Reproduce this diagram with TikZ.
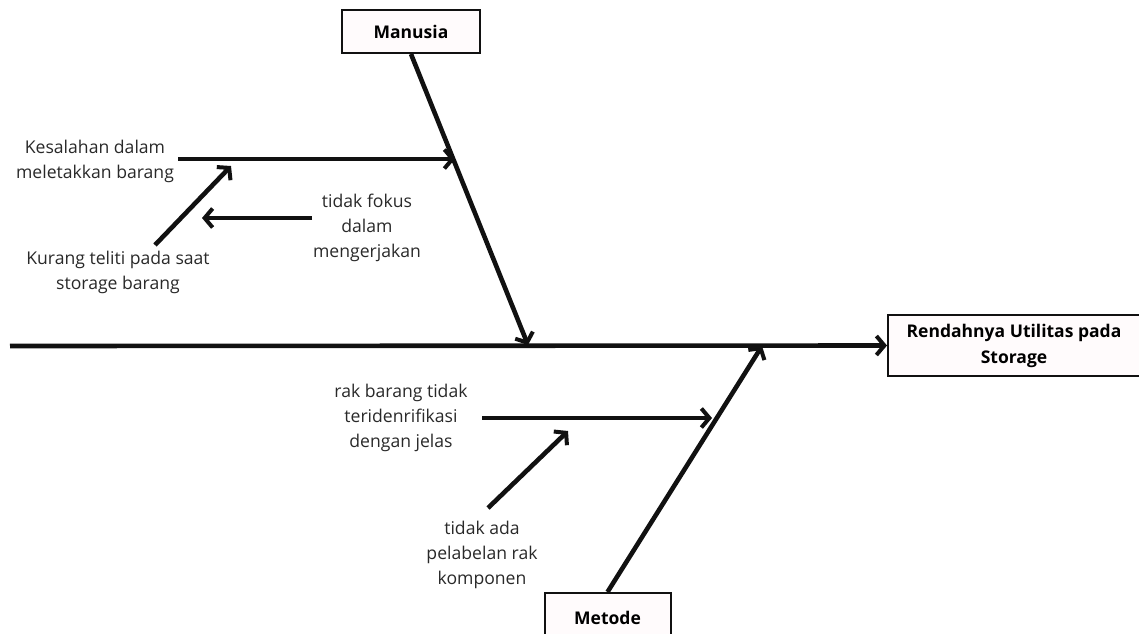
\documentclass[tikz,border=0pt]{standalone}
\usepackage{fontspec}
\setmainfont{Open Sans}
\usetikzlibrary{arrows.meta}
\definecolor{boxfill}{HTML}{FFFBFC}
\definecolor{ink}{HTML}{111111}
\tikzset{
  bone/.style={line width=4.6pt, ink, line cap=butt},
  arrowed/.style={bone, -{Straight Barb[length=8pt,width=19pt,line width=4pt]}},
  catbox/.style={draw=ink, line width=2pt, fill=boxfill, inner sep=0pt, font=\bfseries\fontsize{17.5}{26}\selectfont, align=center},
  cause/.style={font=\fontsize{17.6}{25}\selectfont, text=ink!90, align=center, inner sep=0pt}
}
\begin{document}
\begin{tikzpicture}[x=1pt,y=-1pt]
\useasboundingbox (0,0) rectangle (1139,633);

% category and effect boxes
\node[catbox, minimum width=138pt, minimum height=43pt] (manusia) at (411,31.5) {Manusia};
\node[catbox, minimum width=126pt, minimum height=50pt] (metode) at (607.5,618) {Metode};
\node[catbox, minimum width=252pt, minimum height=61pt] (effect) at (1014,345.5) {Rendahnya Utilitas pada\\Storage};

% main spine
\coordinate (tail) at (10,346);
\draw[arrowed] (tail) -- (effect.west);

% bones
\coordinate (mtip) at (528,345);
\coordinate (metip) at (762,346);
\draw[arrowed] (manusia.south) -- (mtip);
\draw[arrowed] (metode.north) -- (metip);

% Manusia causes
\node[cause] (kesalahan) at (95,161) {Kesalahan dalam\\meletakkan barang};
\node[cause] (fokus) at (367,228) {tidak fokus\\dalam\\mengerjakan};
\node[cause] (kurang) at (118,272) {Kurang teliti pada saat\\storage barang};

\coordinate (k0) at (178,159);
\coordinate (k1) at (455,159);
\draw[arrowed] (k0) -- (k1);
\coordinate (f0) at (312,218);
\coordinate (f1) at (202,218);
\draw[arrowed] (f0) -- (f1);
\coordinate (u0) at (155,245);
\coordinate (u1) at (231,166);
\draw[arrowed] (u0) -- (u1);

% Metode causes
\node[cause] (rak) at (401,418) {rak barang tidak\\teridenrifikasi\\dengan jelas};
\node[cause] (label) at (482,555) {tidak ada\\pelabelan rak\\komponen};

\coordinate (r0) at (482,418);
\coordinate (r1) at (712,418);
\draw[arrowed] (r0) -- (r1);
\coordinate (l0) at (488,508);
\coordinate (l1) at (568,431);
\draw[arrowed] (l0) -- (l1);
\end{tikzpicture}
\end{document}
